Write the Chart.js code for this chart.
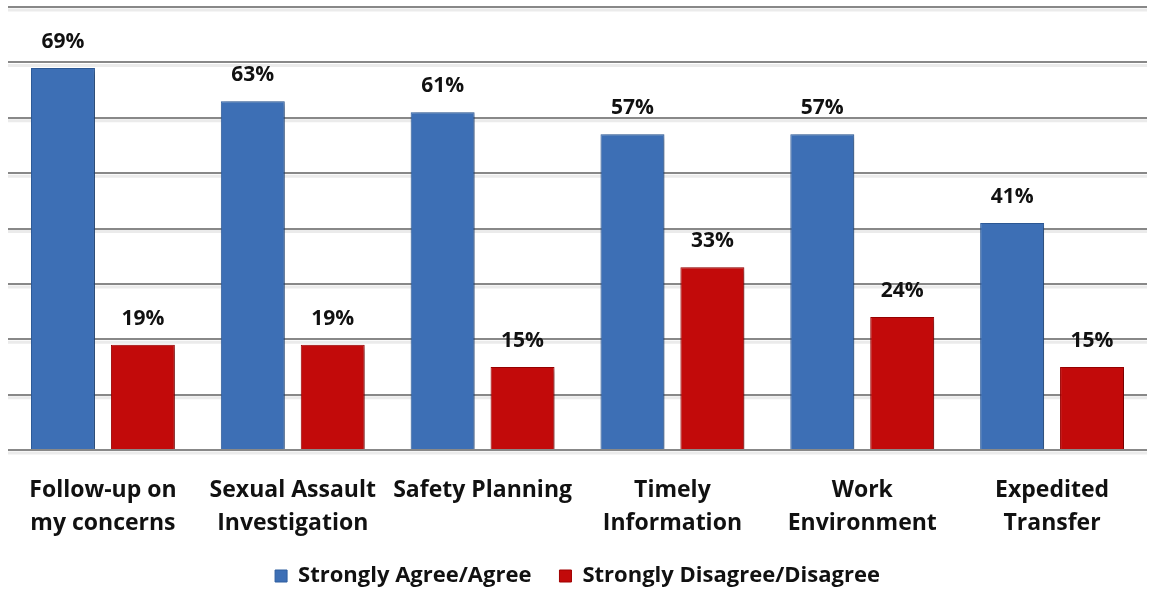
<!DOCTYPE html>
<html>
<head>
<meta charset="utf-8">
<script src="https://cdn.jsdelivr.net/npm/chart.js@4/dist/chart.umd.min.js"></script>
<style>
  html, body { margin: 0; padding: 0; background: #fff; }
  #wrap { width: 1150px; height: 592px; position: relative; }
</style>
</head>
<body>
<div id="wrap"><canvas id="c"></canvas></div>
<script>
const cats = [['Follow-up on', 'my concerns'], ['Sexual Assault', 'Investigation'], 'Safety Planning', ['Timely', 'Information'], ['Work', 'Environment'], ['Expedited', 'Transfer']];
const agree = [69, 63, 61, 57, 57, 41];
const disagree = [19, 19, 15, 33, 24, 15];
const seriesNames = ['Strongly Agree/Agree', 'Strongly Disagree/Disagree'];

const font = '"Open Sans", "Noto Sans", sans-serif';

const valueLabels = {
    id: 'valueLabels',
    afterDatasetsDraw(chart) {
        const ctx = chart.ctx;
        ctx.save();
        ctx.font = 'bold 21px ' + font;
        ctx.fillStyle = '#111';
        ctx.textAlign = 'center';
        ctx.textBaseline = 'middle';
        chart.data.datasets.forEach((ds, i) => {
            chart.getDatasetMeta(i).data.forEach((bar, j) => {
                ctx.fillText(ds.data[j] + '%', bar.x, bar.y - 26);
            });
        });
        ctx.restore();
    }
};

const barShadow = {
    id: 'barShadow',
    beforeDatasetsDraw(chart) {
        const ctx = chart.ctx;
        ctx.save();
        ctx.shadowColor = 'rgba(0,0,0,0.35)';
        ctx.shadowBlur = 6;
        ctx.shadowOffsetX = 3;
        ctx.shadowOffsetY = 2;
    },
    afterDatasetsDraw(chart) {
        chart.ctx.restore();
    }
};

// soft grey shadow under each gridline, like the source image
const gridShadow = {
    id: 'gridShadow',
    beforeDatasetsDraw(chart) {
        const ctx = chart.ctx;
        const y = chart.scales.y;
        const a = chart.chartArea;
        ctx.save();
        ctx.strokeStyle = 'rgba(0,0,0,0.08)';
        ctx.lineWidth = 3;
        y.ticks.forEach(t => {
            const py = y.getPixelForValue(t.value) + 3;
            ctx.beginPath();
            ctx.moveTo(a.left, py);
            ctx.lineTo(a.right, py);
            ctx.stroke();
        });
        ctx.restore();
    }
};

new Chart(document.getElementById('c'), {
    type: 'bar',
    data: {
        labels: cats,
        datasets: [
            { label: seriesNames[0], data: agree, backgroundColor: '#3d6fb5', borderColor: '#2f5e9f', borderWidth: 1 },
            { label: seriesNames[1], data: disagree, backgroundColor: '#c20a0a', borderColor: '#a00000', borderWidth: 1 }
        ]
    },
    options: {
        responsive: true,
        maintainAspectRatio: false,
        animation: false,
        categoryPercentage: 0.842,
        barPercentage: 0.8,
        layout: { padding: { left: 8, right: 3, top: 7, bottom: -5 } },
        plugins: {
            legend: {
                position: 'bottom',
                labels: { font: { family: font, size: 22, weight: 'bold' }, color: '#111', boxWidth: 12, boxHeight: 12, padding: 28 }
            },
            tooltip: { enabled: false }
        },
        scales: {
            x: {
                grid: { display: false },
                border: { display: false },
                ticks: { color: '#111', font: { family: font, size: 23, weight: 'bold', lineHeight: 1.43 }, maxRotation: 0, autoSkip: false, padding: 16 },
                afterFit(scale) { scale.height = 87; }
            },
            y: {
                min: 0, max: 80,
                ticks: { stepSize: 10, display: false },
                grid: { color: '#888888', lineWidth: 2, drawTicks: false },
                border: { display: false }
            }
        }
    },
    plugins: [gridShadow, barShadow, valueLabels]
});
</script>
</body>
</html>
